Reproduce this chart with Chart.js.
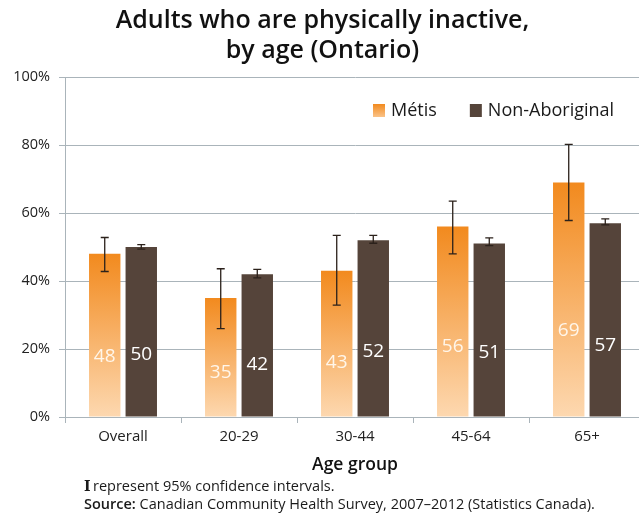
<!DOCTYPE html>
<html>
<head>
<meta charset="utf-8">
<script src="https://cdn.jsdelivr.net/npm/chart.js@4"></script>
<style>
  html, body { margin: 0; padding: 0; background: #fff; overflow: hidden; }
  #wrap { position: relative; width: 650px; height: 516px; }
</style>
</head>
<body>
<div id="wrap"><canvas id="chart" width="650" height="516"></canvas></div>
<script>
const ageGroups = ["Overall", "20-29", "30-44", "45-64", "65+"];

// Percent physically inactive, with 95% confidence limits
const metis = [48, 35, 43, 56, 69];
const metisLow = [42.8, 26, 32.9, 48, 57.8];
const metisHigh = [52.8, 43.6, 53.4, 63.5, 80.2];

const nonAboriginal = [50, 42, 52, 51, 57];
const nonAboriginalLow = [49.4, 40.9, 51.1, 50.4, 56.5];
const nonAboriginalHigh = [50.7, 43.4, 53.4, 52.7, 58.3];

const seriesNames = ["Métis", "Non-Aboriginal"];
const footNote = "represent 95% confidence intervals.";
const sourceNote = "Canadian Community Health Survey, 2007–2012 (Statistics Canada).";

const FONT = "'Open Sans', Lato, sans-serif";
const gridColor = "#aab4ba";
const darkBrown = "#55443a";

function orangeGradient(ctx, top, base) {
  const g = ctx.createLinearGradient(0, top, 0, base);
  g.addColorStop(0, "#f28a1e");
  g.addColorStop(1, "#fdd8b0");
  return g;
}

// whiskers, in-bar values, legend and notes
const extras = {
  id: "extras",
  afterDatasetsDraw(chart) {
    const { ctx } = chart;
    const y = chart.scales.y;
    const limits = [[metisLow, metisHigh], [nonAboriginalLow, nonAboriginalHigh]];
    chart.data.datasets.forEach((ds, di) => {
      chart.getDatasetMeta(di).data.forEach((bar, i) => {
        const x = bar.x;
        ctx.save();
        ctx.fillStyle = di === 0 ? "#fff6ea" : "#ffffff";
        ctx.font = "500 19px " + FONT;
        ctx.textAlign = "center";
        ctx.textBaseline = "middle";
        ctx.fillText(ds.data[i], x, y.getPixelForValue(ds.data[i] * 0.37));

        const top = y.getPixelForValue(limits[di][1][i]);
        const bot = y.getPixelForValue(limits[di][0][i]);
        ctx.strokeStyle = "#2b211b";
        ctx.lineWidth = 1.3;
        ctx.beginPath();
        ctx.moveTo(x, top); ctx.lineTo(x, bot);
        ctx.moveTo(x - 4, top); ctx.lineTo(x + 4, top);
        ctx.moveTo(x - 4, bot); ctx.lineTo(x + 4, bot);
        ctx.stroke();
        ctx.restore();
      });
    });
  },
  afterDraw(chart) {
    const { ctx, chartArea } = chart;
    ctx.save();

    // legend
    let lx = chartArea.left + 308;
    const ly = chartArea.top + 33;
    ctx.font = "18px " + FONT;
    ctx.textBaseline = "middle";
    ctx.textAlign = "left";
    seriesNames.forEach((name, i) => {
      ctx.fillStyle = i === 0 ? orangeGradient(ctx, ly - 6, ly + 12) : darkBrown;
      ctx.fillRect(lx, ly - 6, 12, 13);
      ctx.fillStyle = "#1a1a1a";
      ctx.fillText(name, lx + 18, ly + 1);
      lx += 18 + ctx.measureText(name).width + 33;
    });

    // notes under the chart
    ctx.fillStyle = "#1a1a1a";
    ctx.font = "bold 14px 'DejaVu Serif', serif";
    ctx.fillText("I", 84, 487);
    ctx.font = "14.5px " + FONT;
    ctx.fillText(footNote, 93, 487);
    ctx.font = "600 14.5px " + FONT;
    ctx.fillText("Source:", 84, 505);
    const w = ctx.measureText("Source: ").width;
    ctx.font = "14.5px " + FONT;
    ctx.fillText(sourceNote, 84 + w, 505);
    ctx.restore();
  }
};

new Chart(document.getElementById("chart"), {
  type: "bar",
  data: {
    labels: ageGroups,
    datasets: [
      {
        label: seriesNames[0],
        data: metis,
        backgroundColor(c) {
          const chart = c.chart;
          if (!chart.chartArea || c.type !== "data") return "#f49a44";
          const ys = chart.scales.y;
          return orangeGradient(chart.ctx, ys.getPixelForValue(c.raw), ys.getPixelForValue(0));
        }
      },
      {
        label: seriesNames[1],
        data: nonAboriginal,
        backgroundColor: darkBrown
      }
    ]
  },
  options: {
    responsive: false,
    animation: false,
    devicePixelRatio: 1,
    categoryPercentage: 0.63,
    barPercentage: 0.86,
    layout: { padding: { right: 5, bottom: 40 } },
    plugins: {
      legend: { display: false },
      tooltip: { enabled: false },
      title: {
        display: true,
        text: ["Adults who are physically inactive,", "by age (Ontario)"],
        font: { family: FONT, size: 25, weight: "600", lineHeight: 1.2 },
        color: "#111",
        padding: { top: 6, bottom: 11 }
      }
    },
    scales: {
      x: {
        grid: { offset: true, drawOnChartArea: false, tickLength: 6, color: gridColor },
        border: { color: gridColor },
        ticks: { font: { family: FONT, size: 15 }, color: "#222", padding: 5 },
        title: {
          display: true,
          text: "Age group",
          font: { family: FONT, size: 17.5, weight: "600" },
          color: "#111",
          padding: { top: 4, bottom: 0 }
        }
      },
      y: {
        min: 0,
        max: 100,
        ticks: {
          stepSize: 20,
          callback: v => v + "%",
          font: { family: FONT, size: 14.5 },
          color: "#222",
          padding: 9
        },
        grid: { color: gridColor, tickLength: 6 },
        border: { color: gridColor },
        afterFit(s) { s.width = 65; }
      }
    }
  },
  plugins: [extras]
});
</script>
</body>
</html>
